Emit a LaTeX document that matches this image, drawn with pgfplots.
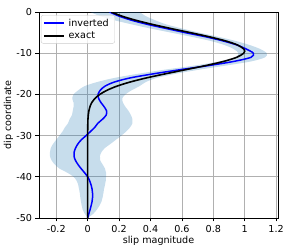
\documentclass[border=0pt]{standalone}
\usepackage{fontspec}
\setmainfont{DejaVu Sans}
\usepackage{pgfplots}
\pgfplotsset{compat=1.18}
\usepackage{pgfplotstable}
\usepgfplotslibrary{fillbetween}
\definecolor{bandc}{HTML}{1F77B4}
\definecolor{gridc}{HTML}{B0B0B0}
\definecolor{legc}{HTML}{CCCCCC}
\newcommand{\myfs}{\fontsize{9.6}{11.5}\selectfont}

\pgfplotstableread{
z lo hi
0 0.015 0.33
-1 0.08 0.37
-2 0.17 0.43
-3 0.28 0.50
-4 0.40 0.60
-5 0.53 0.71
-6 0.66 0.83
-7 0.78 0.94
-8 0.87 1.03
-9 0.93 1.10
-10 0.96 1.14
-11 0.94 1.13
-12 0.84 1.04
-13 0.68 0.88
-14 0.49 0.71
-15 0.32 0.56
-16 0.17 0.44
-17 0.06 0.37
-18 -0.02 0.33
-19 -0.06 0.28
-20 -0.09 0.24
-21 -0.098 0.22
-22 -0.09 0.225
-23 -0.09 0.24
-24 -0.095 0.26
-25 -0.10 0.275
-26 -0.115 0.285
-27 -0.125 0.285
-28 -0.145 0.27
-29 -0.16 0.245
-30 -0.18 0.215
-31 -0.20 0.18
-32 -0.22 0.146
-33 -0.235 0.11
-34 -0.24 0.088
-35 -0.24 0.078
-36 -0.23 0.08
-37 -0.21 0.095
-38 -0.18 0.11
-39 -0.13 0.117
-40 -0.09 0.117
-41 -0.07 0.115
-42 -0.06 0.11
-43 -0.055 0.104
-44 -0.05 0.10
-45 -0.047 0.095
-46 -0.043 0.088
-47 -0.038 0.075
-48 -0.032 0.058
-49 -0.018 0.035
-50 0 0
}\band

\pgfplotstableread{
z s
0 0.14
-1 0.20
-2 0.28
-3 0.38
-4 0.50
-5 0.62
-6 0.75
-7 0.86
-8 0.95
-9 1.01
-10 1.055
-11 1.04
-12 0.93
-13 0.77
-14 0.59
-15 0.42
-16 0.27
-17 0.17
-18 0.11
-19 0.08
-20 0.066
-21 0.07
-22 0.085
-23 0.105
-24 0.12
-25 0.118
-26 0.095
-27 0.065
-28 0.045
-29 0.018
-30 -0.01
-31 -0.04
-32 -0.062
-33 -0.077
-34 -0.086
-35 -0.087
-36 -0.078
-37 -0.062
-38 -0.042
-39 -0.02
-40 0.0
-41 0.013
-42 0.022
-43 0.028
-44 0.031
-45 0.031
-46 0.028
-47 0.022
-48 0.015
-49 0.007
-50 0
}\inv

\pgfplotstableread{
z s
0 0.150
-1 0.218
-2 0.306
-3 0.411
-4 0.529
-5 0.653
-6 0.773
-7 0.877
-8 0.954
-9 0.995
-9.5 1.0
-10 0.994
-11 0.949
-12 0.865
-13 0.752
-14 0.624
-15 0.495
-16 0.374
-17 0.270
-18 0.186
-19 0.123
-20 0.077
-21 0.046
-22 0.026
-23 0.0144
-24 0.0075
-25 0.0037
-26 0.0018
-28 0.0003
-30 0
-35 0
-40 0
-45 0
-50 0
}\exact

\begin{document}
\begin{tikzpicture}
\begin{axis}[at={(0,0)}, anchor=south west, scale only axis,
  width=239pt, height=206pt,
  xmin=-0.31, xmax=1.212, ymin=-50, ymax=0,
  xtick={-0.2,0,0.2,0.4,0.6,0.8,1,1.2},
  xticklabels={-0.2,0,0.2,0.4,0.6,0.8,1,1.2},
  ytick={-50,-40,-30,-20,-10,0},
  yticklabels={-50,-40,-30,-20,-10,0},
  grid=major, major grid style={gridc, line width=0.8pt},
  tick align=outside, tick pos=left, major tick length=3.5pt,
  every tick/.style={black, line width=0.8pt},
  axis line style={line width=0.8pt},
  ticklabel style={font=\myfs},
  label style={font=\myfs},
  xlabel={slip magnitude}, ylabel={dip coordinate},
  xlabel style={at={(axis description cs:0.5,0)}, anchor=base, yshift=-25pt},
  ylabel style={at={(axis description cs:0,0.5)}, anchor=center, yshift=30.5pt},
  legend style={at={(0.008,0.985)}, anchor=north west, draw=legc,
    rounded corners=2pt, fill=white, fill opacity=0.8, text opacity=1,
    font=\myfs, row sep=0pt, inner xsep=2pt, inner ysep=1.5pt,
    nodes={inner xsep=4pt, inner ysep=2pt}},
  legend cell align=left,
  legend image code/.code={\draw[#1, line width=1.6pt] (0pt,0pt) -- (20pt,0pt);},
]
\addplot[draw=none, name path=L, forget plot, smooth] table[x=lo,y=z]{\band};
\addplot[draw=none, name path=R, forget plot, smooth] table[x=hi,y=z]{\band};
\addplot[bandc, fill opacity=0.25, draw=none, forget plot] fill between[of=L and R];
\addplot[blue, line width=1.5pt, smooth] table[x=s,y=z]{\inv};
\addplot[black, line width=1.6pt, smooth] table[x=s,y=z]{\exact};
\legend{inverted, exact}
\node[anchor=base west, inner sep=0pt, font=\myfs] at (rel axis cs:0,1) [yshift=3pt] {km};
\node[anchor=base east, inner sep=0pt, font=\myfs] at (rel axis cs:1,0) [yshift=-25pt] {m};
\end{axis}
\pgfresetboundingbox
\useasboundingbox (-39pt,-30pt) rectangle (244pt,218pt);
\end{tikzpicture}
\end{document}
